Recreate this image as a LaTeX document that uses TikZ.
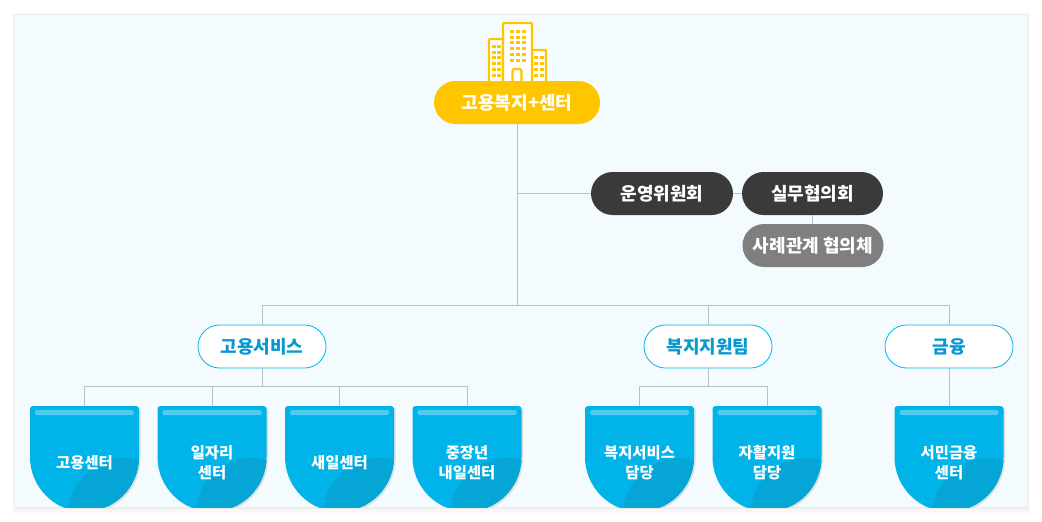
\documentclass[tikz,border=0pt]{standalone}
\usepackage{fontspec}
\usepackage{xcolor}
\setmainfont{Noto Sans CJK KR}

\definecolor{panelbg}{HTML}{F3FBFF}
\definecolor{linegray}{HTML}{B8C0C3}
\definecolor{gold}{HTML}{FFC600}
\definecolor{darkpill}{HTML}{3A3A3A}
\definecolor{graypill}{HTML}{7F7F7F}
\definecolor{skyblue}{HTML}{00B4EA}
\definecolor{deepblue}{HTML}{05A5D6}
\definecolor{barblue}{HTML}{4DCBF1}
\definecolor{teamtext}{HTML}{0798CF}

\tikzset{
  pill/.style={rounded corners=21.5pt, minimum width=#1, minimum height=43pt, inner sep=0pt,
    text=white, font=\fontsize{18}{20}\selectfont\bfseries},
  team/.style={pill=128pt, draw=skyblue, fill=white, text=teamtext, line width=0.8pt},
  cardbox/.style={minimum width=109pt, minimum height=101pt, inner sep=0pt},
  cardtext/.style={text=white, align=center, font=\fontsize{15.4}{20.5}\selectfont\bfseries},
  tower/.style={draw=gold, fill=white, line width=2.2pt, rounded corners=1pt},
  wire/.style={draw=linegray, line width=0.9pt}
}

\newcommand{\cardpath}[1]{(#1,457) -- (#1,409) arc[start angle=180, end angle=90, radius=3pt]
  -- ++(103,0) arc[start angle=90, end angle=0, radius=3pt]
  -- ++(0,48) arc[start angle=0, end angle=-180, radius=54.5pt] -- cycle}

\begin{document}
\begin{tikzpicture}[x=1pt, y=-1pt]
        \useasboundingbox (0,0) rectangle (1042,522);

        \foreach \d/\g in {6/1.5,4/3,2/7}
          \fill[black!\g] (15-\d/2,15-\d/3) rectangle (1027+\d/2,507+\d*1.2);
        \fill[panelbg] (15,15) rectangle (1027,507);

        % building
        \draw[tower] (489,82) |- (503,39) -- (503,82);
        \draw[tower] (546,82) |- (532,50) -- (532,82);
        \draw[tower] (503,82) |- (532,23) -- (532,82);
        \draw[gold, line width=2.2pt, rounded corners=2pt] (512.5,82) |- (521.5,69) -- (521.5,82);
        \foreach \x in {512,518,524}
          \foreach \y in {31,37,42,48,54,60}
            \fill[gold] (\x-2,\y-1.5) rectangle (\x+2,\y+1.5);
        \foreach \x in {494,499}
          \foreach \y in {46,52,57,63,69,75}
            \fill[gold] (\x-2,\y-1.5) rectangle (\x+2,\y+1.5);
        \foreach \x in {536,542}
          \foreach \y in {57,63,69,75}
            \fill[gold] (\x-2,\y-1.5) rectangle (\x+2,\y+1.5);

        % cards
        \foreach \x in {30,157.5,285,412.5,585,712.5,894.5} {
          \begin{scope}
            \clip (\x-5,400) rectangle (\x+120,507);
            \fill[black!13, xshift=1.5pt, yshift=-1.5pt] \cardpath{\x};
            \fill[skyblue] \cardpath{\x};
            \clip \cardpath{\x};
            \fill[deepblue] (\x+95,515) circle[radius=57pt];
          \end{scope}
          \fill[barblue, rounded corners=1.5pt] (\x+5,410) rectangle (\x+104,415);
        }

        \node[pill=166pt, fill=gold] (hq) at (517,102.5) {고용복지+센터};
        \node[pill=142pt, fill=darkpill] (board) at (662,193.5) {운영위원회};
        \node[pill=141pt, fill=darkpill] (council) at (812.5,193.5) {실무협의회};
        \node[pill=141pt, fill=graypill] (casework) at (813,245.5) {사례관계 협의체};

        \node[team] (employ) at (262,346.5) {고용서비스};
        \node[team] (welfare) at (708,346.5) {복지지원팀};
        \node[team] (finance) at (949,346.5) {금융};

        \node[cardbox] (card1) at (84.5,456.5) {};
        \node[cardbox] (card2) at (212,456.5) {};
        \node[cardbox] (card3) at (339.5,456.5) {};
        \node[cardbox] (card4) at (467,456.5) {};
        \node[cardbox] (card5) at (639.5,456.5) {};
        \node[cardbox] (card6) at (767,456.5) {};
        \node[cardbox] (card7) at (949,456.5) {};

        \node[cardtext] (label1) at (84.5,462.5) {고용센터};
        \node[cardtext] (label2) at (212,462.5) {일자리\\센터};
        \node[cardtext] (label3) at (339.5,462.5) {새일센터};
        \node[cardtext] (label4) at (467,462.5) {중장년\\내일센터};
        \node[cardtext] (label5) at (639.5,462.5) {복지서비스\\담당};
        \node[cardtext] (label6) at (767,462.5) {자활지원\\담당};
        \node[cardtext] (label7) at (949,462.5) {서민금융\\센터};

        \coordinate (mainbus) at (517,305.5);
        \coordinate (employbus) at (262,386.5);
        \coordinate (welfarebus) at (708,386.5);

        \draw[wire] (hq.south) -- (mainbus);
        \draw[wire] (hq.south |- board) -- (board.west);
        \draw[wire] (board.east) -- (council.west);
        \draw[wire] (council.south) -- (council.south |- casework.north);
        \draw[wire] (mainbus) -| (employ.north);
        \draw[wire] (mainbus) -| (welfare.north);
        \draw[wire] (mainbus) -| (finance.north);

        \draw[wire] (employ.south) -- (employbus);
        \foreach \c in {card1,card2,card3,card4}
          \draw[wire] (employbus) -| (\c.north);
        \draw[wire] (welfare.south) -- (welfarebus);
        \foreach \c in {card5,card6}
          \draw[wire] (welfarebus) -| (\c.north);
        \draw[wire] (finance.south) -- (card7.north);
      \end{tikzpicture}
\end{document}
